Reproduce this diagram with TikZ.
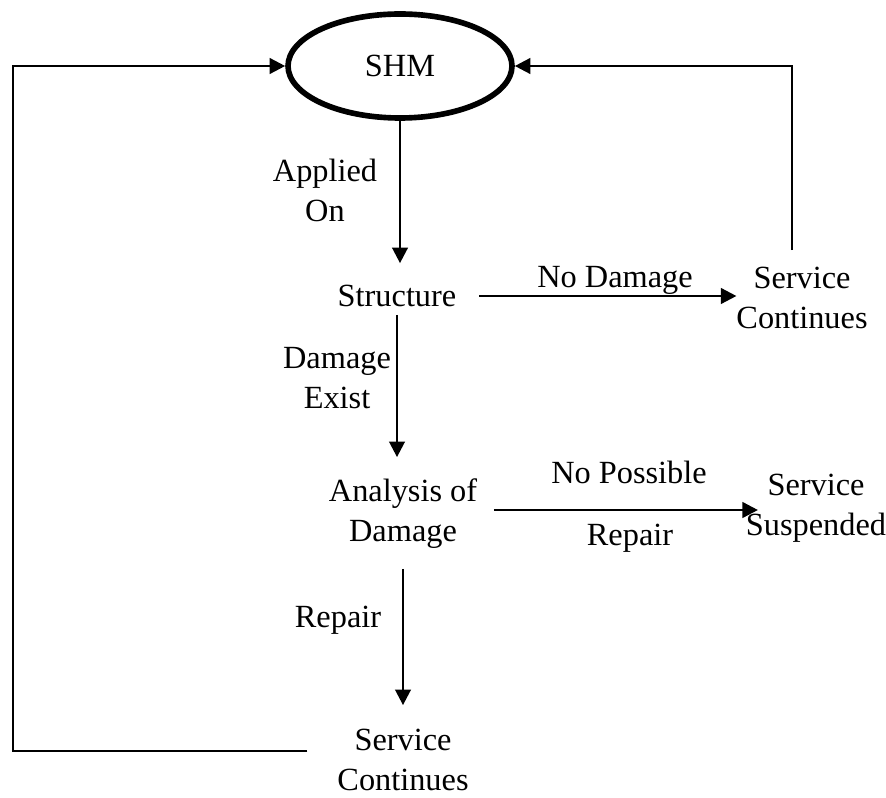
\documentclass[tikz,border=0pt]{standalone}
\usepackage{fontspec}
\setmainfont{Liberation Serif}
\usepackage{tikz}
\usetikzlibrary{arrows.meta, positioning, shapes.geometric}

\begin{document}
\begin{tikzpicture}[
    every node/.style={font=\fontsize{23}{28.5}\selectfont},
    hub/.style={ellipse, draw, line width=4pt, minimum width=5.6cm, minimum height=2.6cm, inner sep=0pt},
    state/.style={align=center, inner sep=0pt, outer sep=0pt},
    flab/.style={align=center, inner sep=0pt},
    flow/.style={-{Triangle[length=11pt,width=11pt]}, line width=1.8pt}
]
\useasboundingbox (0,0) rectangle (22.15,-19.925);

% Nodes
\node[hub]   (shm)      at (10.0,-1.65)    {SHM};
\node[state] (struct)   at (9.925,-7.4)    {Structure};
\node[state] (servcont) at (20.05,-7.45)   {Service\\Continues};
\node[state] (analysis) at (10.075,-12.85) {Analysis of\\Damage};
\node[state] (servsusp) at (20.4,-12.7)    {Service\\Suspended};
\node[state] (servend)  at (10.075,-19.0)  {Service\\Continues};

% Main flows
\draw[flow, shorten >=0.55cm] (shm.south) -- (shm.south |- struct.north);
\draw[flow, shorten <=0.575cm] (struct.east) -- (struct.east -| servcont.west);
\draw[flow, shorten <=0.2cm, shorten >=0.55cm] (struct.south) -- (struct.south |- analysis.north);
\draw[flow, shorten <=0.42cm, shorten >=-0.3cm] ([yshift=0.1cm]analysis.east) -- ([yshift=0.1cm]analysis.east -| servsusp.west);
\draw[flow, shorten <=0.5cm, shorten >=0.6cm] (analysis.south) -- (analysis.south |- servend.north);

% Labels
\node[flab] (lapplied) at (8.125,-4.75)  {Applied\\On};
\node[flab] (lnodmg)   at (15.375,-7.02) {No Damage};
\node[flab] (lexist)   at (8.425,-9.45)  {Damage\\Exist};
\node[flab] (lnopos)   at (15.725,-11.8) {No Possible};
\node[flab] (lrepr)    at (15.75,-13.45) {Repair};
\node[flab] (lrepair)  at (8.45,-15.5)   {Repair};

% Feedback loops back to SHM
\coordinate (lcorner) at (0.325,-18.775);
\coordinate (rcorner) at (19.8,-1.65);
\draw[flow, shorten <=0.75cm] (servend.west |- lcorner) -- (lcorner) |- (shm.west);
\draw[flow, shorten <=0.425cm] (servcont.north -| rcorner) -- (rcorner) -- (shm.east);
\end{tikzpicture}
\end{document}
